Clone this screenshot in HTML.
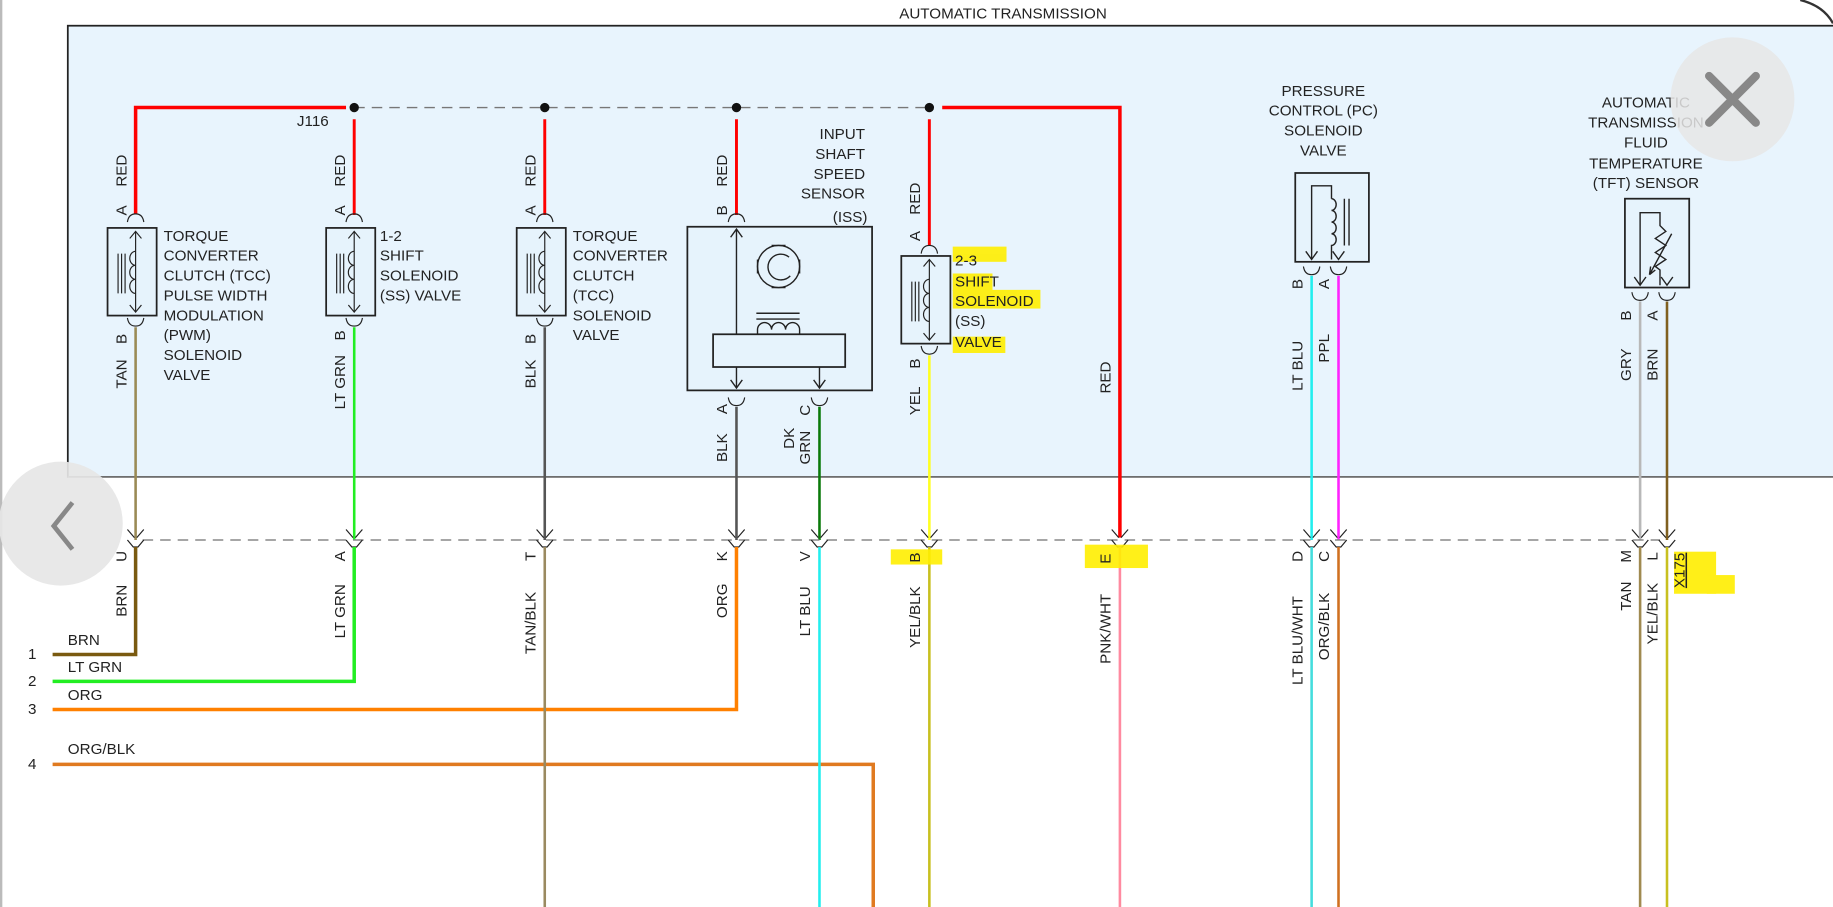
<!DOCTYPE html>
<html><head><meta charset="utf-8"><style>
html,body{margin:0;padding:0;background:#fff;overflow:hidden}
svg{display:block}
text{font-family:"Liberation Sans",sans-serif;font-size:13px;fill:#222}
</style></head><body>
<svg width="1833" height="907" viewBox="0 0 1568 776" preserveAspectRatio="none" xmlns="http://www.w3.org/2000/svg">
<defs>
<g id="sol">
 <rect x="-24" y="0" width="42" height="75" fill="#e6f3fc" stroke="#222" stroke-width="1.5"/>
 <line x1="0" y1="3" x2="0" y2="72" stroke="#222" stroke-width="1"/>
 <path d="M-5,9 L0,3 L5,9 M-5,66 L0,72 L5,66" fill="none" stroke="#222" stroke-width="1"/>
 <path d="M0,20 a5,6 0 0 0 0,12 a5,6 0 0 0 0,12 a5,6 0 0 0 0,12" fill="none" stroke="#222" stroke-width="1"/>
 <path d="M-9,22 V56 M-12,22 V56 M-15,22 V56" stroke="#222" stroke-width="1"/>
</g>
<g id="ctop"><path d="M-7,8 Q-6,1 0,1 Q6,1 7,8" fill="none" stroke="#222" stroke-width="1"/></g>
<g id="cbot"><path d="M-7,0 Q-6,7 0,7 Q6,7 7,0" fill="none" stroke="#222" stroke-width="1"/></g>
<g id="chev"><path d="M-7,-9 L-1,-2 M7,-9 L1,-2 M-7,0 L-2,6 L2,6 L7,0" fill="none" stroke="#222" stroke-width="1"/></g>
</defs>

<line x1="1" y1="0" x2="1" y2="776" stroke="#bbb" stroke-width="2"/>
<text x="858" y="16" text-anchor="middle" font-size="12">AUTOMATIC TRANSMISSION</text>
<rect x="58" y="22" width="1530" height="386" fill="#e8f4fd" stroke="#222" stroke-width="1.5"/>
<line x1="58" y1="408" x2="1568" y2="408" stroke="#888" stroke-width="1"/>

<path d="M116,183 V92 H296" fill="none" stroke="#f00" stroke-width="3"/>
<line x1="303" y1="92" x2="795" y2="92" stroke="#777" stroke-dasharray="9,6" stroke-width="1.2"/>
<path d="M806,92 H958 V460" fill="none" stroke="#f00" stroke-width="3"/>
<g fill="#111"><circle cx="303" cy="92" r="4"/><circle cx="466" cy="92" r="4"/><circle cx="630" cy="92" r="4"/><circle cx="795" cy="92" r="4"/></g>
<text x="254" y="108">J116</text>
<g stroke="#f00" stroke-width="2.5">
 <line x1="303" y1="102" x2="303" y2="184"/>
 <line x1="466" y1="102" x2="466" y2="184"/>
 <line x1="630" y1="102" x2="630" y2="184"/>
 <line x1="795" y1="102" x2="795" y2="210"/>
</g>

<use href="#ctop" x="116" y="182"/><use href="#sol" x="116" y="195"/><use href="#cbot" x="116" y="272"/>
<use href="#ctop" x="303" y="182"/><use href="#sol" x="303" y="195"/><use href="#cbot" x="303" y="272"/>
<use href="#ctop" x="466" y="182"/><use href="#sol" x="466" y="195"/><use href="#cbot" x="466" y="272"/>
<use href="#ctop" x="630" y="182"/>
<use href="#ctop" x="795" y="209"/><use href="#sol" x="795" y="219"/><use href="#cbot" x="795" y="296"/>

<g stroke="#222" fill="none" stroke-width="1.2">
 <rect x="588" y="194" width="158" height="140" fill="#e6f3fc" stroke-width="1.5"/>
 <line x1="630" y1="196" x2="630" y2="332"/>
 <path d="M625,203 L630,196 L635,203 M625,325 L630,332 L635,325 M696,325 L701,332 L706,325"/>
 <line x1="701" y1="314" x2="701" y2="332"/>
 <rect x="610" y="286" width="113" height="28" fill="#e6f3fc" stroke-width="1.5"/>
 <circle cx="666" cy="228" r="18"/>
 <path d="M675,220 A11,11 0 1 0 676,236"/>
 <path d="M647,268 H684 M647,273 H684"/>
 <path d="M648,286 V282 a6,6 0 0 1 12,0 a6,6 0 0 1 12,0 a6,6 0 0 1 12,0 V286"/>
 <path d="M660,210 h12 M660,246 h12 M648,222 v12 M684,222 v12"/>
</g>
<use href="#cbot" x="630" y="340"/><use href="#cbot" x="701" y="340"/>

<g stroke="#222" fill="none" stroke-width="1.2">
 <rect x="1108" y="148" width="63" height="76" fill="#e6f3fc" stroke-width="1.5"/>
 <path d="M1122,222 V159 H1139 V170"/>
 <path d="M1139,170 a4,5 0 0 1 0,10 a4,5 0 0 1 0,10 a4,5 0 0 1 0,10 a4,5 0 0 1 0,10 V222"/>
 <path d="M1150,170 V210 M1154,170 V210"/>
 <path d="M1117,215 L1122,222 L1127,215 M1140,215 L1145,222 L1150,215"/>
</g>
<use href="#cbot" x="1122" y="228"/><use href="#cbot" x="1145" y="228"/>

<g stroke="#222" fill="none" stroke-width="1.2">
 <rect x="1390" y="170" width="55" height="76" fill="#e6f3fc" stroke-width="1.5"/>
 <path d="M1403,244 V182 H1420 V193 l5,5 l-9,6 l9,6 l-9,6 l9,6 l-9,6 l4,3 V244"/>
 <path d="M1411,235 L1430,200 M1411,235 l1,-7 M1411,235 l5,-4"/>
 <path d="M1398,237 L1403,244 L1408,237 M1421,237 L1426,244 L1431,237"/>
</g>
<use href="#cbot" x="1403" y="250"/><use href="#cbot" x="1426" y="250"/>

<g stroke-width="2.2" fill="none">
 <line x1="116" y1="280" x2="116" y2="462" stroke="#9a8a55"/>
 <line x1="303" y1="280" x2="303" y2="462" stroke="#22ee22"/>
 <line x1="466" y1="280" x2="466" y2="462" stroke="#555"/>
 <line x1="630" y1="348" x2="630" y2="462" stroke="#555"/>
 <line x1="701" y1="348" x2="701" y2="462" stroke="#0a7a0a"/>
 <line x1="795" y1="304" x2="795" y2="462" stroke="#ffff22"/>
 <line x1="1122" y1="236" x2="1122" y2="462" stroke="#22eeee"/>
 <line x1="1145" y1="236" x2="1145" y2="462" stroke="#ff22ff"/>
 <line x1="1403" y1="258" x2="1403" y2="462" stroke="#b8b8b8"/>
 <line x1="1426" y1="258" x2="1426" y2="462" stroke="#806020"/>
</g>

<line x1="122" y1="462" x2="1420" y2="462" stroke="#888" stroke-dasharray="9,6" stroke-width="1.2"/>
<g>
<use href="#chev" x="116" y="462"/><use href="#chev" x="303" y="462"/><use href="#chev" x="466" y="462"/>
<use href="#chev" x="630" y="462"/><use href="#chev" x="701" y="462"/><use href="#chev" x="795" y="462"/>
<use href="#chev" x="958" y="462"/><use href="#chev" x="1122" y="462"/><use href="#chev" x="1145" y="462"/>
<use href="#chev" x="1403" y="462"/><use href="#chev" x="1426" y="462"/>
</g>

<g stroke-width="2.2" fill="none">
 <path d="M116,468 V560 H45" stroke="#7a5a10" stroke-width="3"/>
 <path d="M303,468 V583 H45" stroke="#22ee22" stroke-width="3"/>
 <path d="M630,468 V607 H45" stroke="#ff8000" stroke-width="3"/>
 <path d="M45,654 H747 V776" stroke="#e07a20" stroke-width="3"/>
 <line x1="466" y1="468" x2="466" y2="776" stroke="#9a8a60"/>
 <line x1="701" y1="468" x2="701" y2="776" stroke="#22eeee"/>
 <line x1="795" y1="468" x2="795" y2="776" stroke="#c8c020"/>
 <line x1="958" y1="468" x2="958" y2="776" stroke="#ff8aa0"/>
 <line x1="1122" y1="468" x2="1122" y2="776" stroke="#44dddd"/>
 <line x1="1145" y1="468" x2="1145" y2="776" stroke="#d07020"/>
 <line x1="1403" y1="468" x2="1403" y2="776" stroke="#a08a50"/>
 <line x1="1426" y1="468" x2="1426" y2="776" stroke="#c8c020"/>
</g>

<g fill="#ffee00" opacity="0.9">
 <rect x="815" y="211" width="46" height="13"/><rect x="815" y="234" width="34" height="15"/>
 <rect x="815" y="248" width="75" height="16"/><rect x="815" y="288" width="45" height="14"/>
 <rect x="762" y="470" width="44" height="13"/><rect x="928" y="466" width="54" height="20"/>
 <rect x="1432" y="472" width="36" height="36"/><rect x="1460" y="492" width="24" height="16"/>
</g>

<g>
 <text x="140" y="206">TORQUE</text><text x="140" y="223">CONVERTER</text><text x="140" y="240">CLUTCH (TCC)</text>
 <text x="140" y="257">PULSE WIDTH</text><text x="140" y="274">MODULATION</text><text x="140" y="291">(PWM)</text>
 <text x="140" y="308">SOLENOID</text><text x="140" y="325">VALVE</text>
 <text x="325" y="206">1-2</text><text x="325" y="223">SHIFT</text><text x="325" y="240">SOLENOID</text><text x="325" y="257">(SS) VALVE</text>
 <text x="490" y="206">TORQUE</text><text x="490" y="223">CONVERTER</text><text x="490" y="240">CLUTCH</text>
 <text x="490" y="257">(TCC)</text><text x="490" y="274">SOLENOID</text><text x="490" y="291">VALVE</text>
 <g text-anchor="end"><text x="740" y="119">INPUT</text><text x="740" y="136">SHAFT</text><text x="740" y="153">SPEED</text><text x="740" y="170">SENSOR</text><text x="742" y="190">(ISS)</text></g>
 <text x="817" y="227">2-3</text><text x="817" y="245">SHIFT</text><text x="817" y="262">SOLENOID</text><text x="817" y="279">(SS)</text><text x="817" y="297">VALVE</text>
 <g text-anchor="middle"><text x="1132" y="82">PRESSURE</text><text x="1132" y="99">CONTROL (PC)</text><text x="1132" y="116">SOLENOID</text><text x="1132" y="133">VALVE</text>
 <text x="1408" y="92">AUTOMATIC</text><text x="1408" y="109">TRANSMISSION</text><text x="1408" y="126">FLUID</text><text x="1408" y="144">TEMPERATURE</text><text x="1408" y="161">(TFT) SENSOR</text></g>
 <text x="58" y="552">BRN</text><text x="58" y="575">LT GRN</text><text x="58" y="599">ORG</text><text x="58" y="645">ORG/BLK</text>
 <text x="24" y="564">1</text><text x="24" y="587">2</text><text x="24" y="611">3</text><text x="24" y="658">4</text>
</g>

<g text-anchor="middle">
 <text transform="translate(108,146) rotate(-90)">RED</text><text transform="translate(108,180) rotate(-90)">A</text>
 <text transform="translate(108,290) rotate(-90)">B</text><text transform="translate(108,320) rotate(-90)">TAN</text>
 <text transform="translate(295,146) rotate(-90)">RED</text><text transform="translate(295,180) rotate(-90)">A</text>
 <text transform="translate(295,287) rotate(-90)">B</text><text transform="translate(295,327) rotate(-90)">LT GRN</text>
 <text transform="translate(458,146) rotate(-90)">RED</text><text transform="translate(458,180) rotate(-90)">A</text>
 <text transform="translate(458,290) rotate(-90)">B</text><text transform="translate(458,320) rotate(-90)">BLK</text>
 <text transform="translate(622,146) rotate(-90)">RED</text><text transform="translate(622,180) rotate(-90)">B</text>
 <text transform="translate(622,350) rotate(-90)">A</text><text transform="translate(622,383) rotate(-90)">BLK</text>
 <text transform="translate(693,351) rotate(-90)">C</text><text transform="translate(679,375) rotate(-90)">DK</text><text transform="translate(693,383) rotate(-90)">GRN</text>
 <text transform="translate(787,170) rotate(-90)">RED</text><text transform="translate(787,202) rotate(-90)">A</text>
 <text transform="translate(787,311) rotate(-90)">B</text><text transform="translate(787,343) rotate(-90)">YEL</text>
 <text transform="translate(950,323) rotate(-90)">RED</text>
 <text transform="translate(1114,243) rotate(-90)">B</text><text transform="translate(1137,243) rotate(-90)">A</text>
 <text transform="translate(1114,313) rotate(-90)">LT BLU</text><text transform="translate(1137,298) rotate(-90)">PPL</text>
 <text transform="translate(1395,270) rotate(-90)">B</text><text transform="translate(1418,270) rotate(-90)">A</text>
 <text transform="translate(1395,312) rotate(-90)">GRY</text><text transform="translate(1418,312) rotate(-90)">BRN</text>
 <text transform="translate(108,476) rotate(-90)">U</text><text transform="translate(108,514) rotate(-90)">BRN</text>
 <text transform="translate(295,476) rotate(-90)">A</text><text transform="translate(295,523) rotate(-90)">LT GRN</text>
 <text transform="translate(458,476) rotate(-90)">T</text><text transform="translate(458,533) rotate(-90)">TAN/BLK</text>
 <text transform="translate(622,476) rotate(-90)">K</text><text transform="translate(622,514) rotate(-90)">ORG</text>
 <text transform="translate(693,476) rotate(-90)">V</text><text transform="translate(693,523) rotate(-90)">LT BLU</text>
 <text transform="translate(787,477) rotate(-90)">B</text><text transform="translate(787,528) rotate(-90)">YEL/BLK</text>
 <text transform="translate(950,478) rotate(-90)">E</text><text transform="translate(950,538) rotate(-90)">PNK/WHT</text>
 <text transform="translate(1114,476) rotate(-90)">D</text><text transform="translate(1114,548) rotate(-90)">LT BLU/WHT</text>
 <text transform="translate(1137,476) rotate(-90)">C</text><text transform="translate(1137,536) rotate(-90)">ORG/BLK</text>
 <text transform="translate(1395,476) rotate(-90)">M</text><text transform="translate(1418,476) rotate(-90)">L</text>
 <text transform="translate(1395,510) rotate(-90)">TAN</text><text transform="translate(1418,525) rotate(-90)">YEL/BLK</text>
 <text transform="translate(1441,488) rotate(-90)" text-decoration="underline">X175</text>
</g>

<circle cx="52" cy="448" r="53" fill="#e6e6e6" opacity="0.92"/>
<path d="M62,430 L46,450 L62,470" fill="none" stroke="#888" stroke-width="4"/>
<circle cx="1482" cy="85" r="53" fill="#e6e6e6" opacity="0.85"/>
<path d="M1462,65 L1502,105 M1502,65 L1462,105" stroke="#888" stroke-width="7" stroke-linecap="round"/>
<path d="M1540,0 Q1560,5 1568,20" fill="none" stroke="#333" stroke-width="2"/>
</svg>
</body></html>
